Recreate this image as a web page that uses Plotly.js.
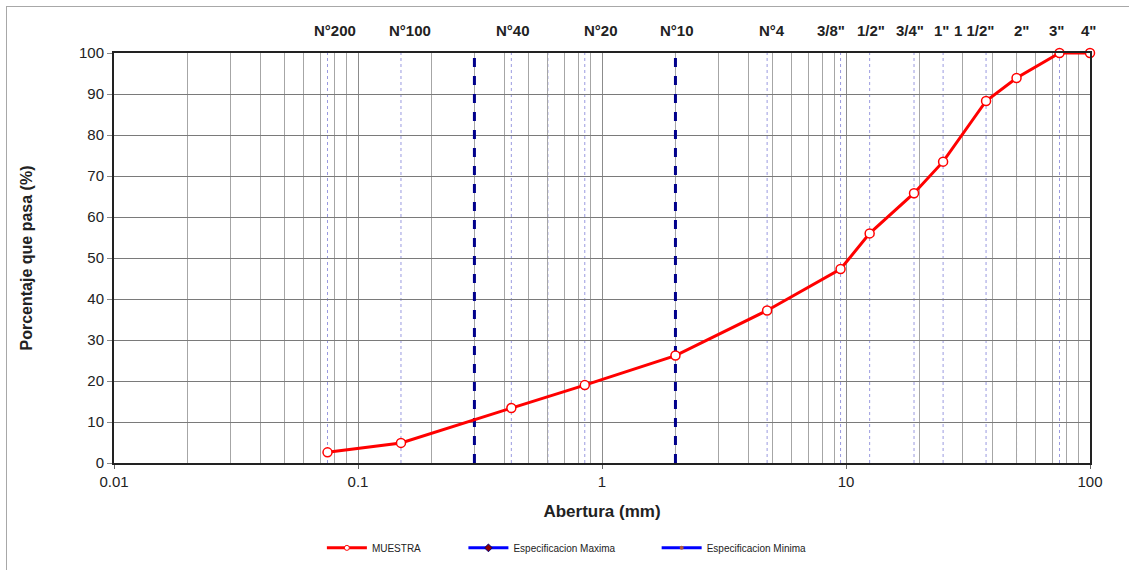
<!DOCTYPE html>
<html>
<head>
<meta charset="utf-8">
<script src="https://cdn.plot.ly/plotly-3.0.1.min.js"></script>
<style>
  html, body { margin: 0; padding: 0; background: #fff; }
  #wrap { position: relative; width: 1137px; height: 570px; }
  #chart { width: 1137px; height: 570px; }
  #frame { position: absolute; left: 6px; top: 6px; width: 1122px; height: 564px;
           border-left: 1px solid #a8a8a8; border-top: 1px solid #a8a8a8; pointer-events: none; }
</style>
</head>
<body>
<div id="wrap"><div id="chart"></div><div id="frame"></div></div>
<script>
// Sample gradation (abertura mm, % que pasa)
const muestraAbertura = [0.075, 0.15, 0.425, 0.85, 2.0, 4.75, 9.5, 12.5, 19.0, 25.0, 37.5, 50.0, 75.0, 100.0];
const muestraPasa     = [2.6, 4.9, 13.4, 19.0, 26.2, 37.2, 47.3, 56.0, 65.8, 73.5, 88.3, 93.9, 100.0, 100.0];

// Sieve designations and openings (top labels + dotted reference lines)
const tamices       = ["N°200", "N°100", "N°40", "N°20", "N°10", "N°4", "3/8\"", "1/2\"", "3/4\"", "1\"", "1 1/2\"", "2\"", "3\"", "4\""];
const tamizAbertura = [0.075, 0.15, 0.425, 0.85, 2.0, 4.75, 9.5, 12.5, 19.0, 25.0, 37.5, 50.0, 75.0, 100.0];
const tamicesExtra  = [0.6];

// Specification limit lines (mm)
const limitesEspec = [0.3, 2.0];

// Specification series (no values plotted in the reference)
const espMaxAbertura = [null];
const espMaxPasa = [null];
const espMinAbertura = [null];
const espMinPasa = [null];

const xTicks = [0.01, 0.1, 1, 10, 100];
const xTickText = ["0.01", "0.1", "1", "10", "100"];

// label pixel nudges (styling only)
const labelShift = [7, 9, 2, 16, 2, 5, -10, 1, -4, -2, -12, 5, -3, -2];

const FONT = "Liberation Sans, Arial, sans-serif";

const traces = [];
limitesEspec.forEach(v => {
  traces.push({
    x: [v, v], y: [0, 100], mode: "lines", showlegend: false, hoverinfo: "skip",
    line: { color: "#00008B", width: 3, dash: "dash" }
  });
});
traces.push({
  name: "MUESTRA", x: muestraAbertura, y: muestraPasa, mode: "lines+markers",
  line: { color: "#FF0000", width: 3 },
  marker: { symbol: "circle", size: 9, color: "#FFFFFF", line: { color: "#FF0000", width: 1.5 } },
  showlegend: false, cliponaxis: false
});
// legend entry for the sample with a small marker, as in the reference
traces.push({
  name: "MUESTRA", x: [null], y: [null], mode: "lines+markers",
  line: { color: "#FF0000", width: 3 },
  marker: { symbol: "circle", size: 5, color: "#FFFFFF", line: { color: "#FF0000", width: 1 } },
  legend: "legend", showlegend: true
});
traces.push({
  name: "Especificacion Maxima", x: espMaxAbertura, y: espMaxPasa, mode: "lines+markers",
  line: { color: "#0000FF", width: 3 },
  marker: { symbol: "diamond", size: 6, color: "#8B0000", line: { color: "#000080", width: 1 } },
  legend: "legend2", showlegend: true
});
traces.push({
  name: "Especificacion Minima", x: espMinAbertura, y: espMinPasa, mode: "lines+markers",
  line: { color: "#0000FF", width: 3 },
  marker: { symbol: "circle", size: 4, color: "#B05A3A" },
  legend: "legend3", showlegend: true
});

const shapes = tamizAbertura.concat(tamicesExtra).filter(v => v < 100).map(v => ({
  type: "line", xref: "x", yref: "paper", x0: v, x1: v, y0: 0, y1: 1, layer: "below",
  line: { color: "#9A9AE0", width: 1, dash: "dot" }
}));

const annotations = tamices.map((t, i) => ({
  text: "<b>" + t + "</b>", xref: "x", yref: "paper", x: Math.log10(tamizAbertura[i]), y: 1.054,
  xshift: labelShift[i],
  showarrow: false, xanchor: "center", yanchor: "middle",
  font: { family: FONT, size: 15, color: "#222" }
}));

const legendBase = {
  orientation: "h", yanchor: "middle", y: -0.207, xanchor: "left",
  font: { family: FONT, size: 10, color: "#222" }, bgcolor: "rgba(0,0,0,0)",
  itemwidth: 40
};

const layout = {
  width: 1137, height: 570,
  margin: { l: 114, r: 47, t: 53, b: 107, autoexpand: false },
  paper_bgcolor: "#FFFFFF", plot_bgcolor: "#FFFFFF",
  font: { family: FONT, size: 13, color: "#222" },
  xaxis: {
    type: "log", range: [-2, 2], tickmode: "array", tickvals: xTicks, ticktext: xTickText,
    ticks: "outside", ticklen: 4, tickcolor: "#666", automargin: false,
    showgrid: true, gridcolor: "#8C8C8C", gridwidth: 1,
    minor: { dtick: "D1", showgrid: true, gridcolor: "#A6A6A6", gridwidth: 1, ticks: "" },
    showline: true, linecolor: "#222", linewidth: 2, mirror: true,
    tickfont: { family: FONT, size: 15, color: "#222" },
    title: { text: "<b>Abertura (mm)</b>", font: { family: FONT, size: 17, color: "#222" }, standoff: 16 },
    zeroline: false
  },
  yaxis: {
    range: [0, 100], dtick: 10, tick0: 0,
    ticks: "outside", ticklen: 5, tickcolor: "#888", automargin: false,
    showgrid: true, gridcolor: "#7A7A7A", gridwidth: 1,
    showline: true, linecolor: "#222", linewidth: 2, mirror: true,
    tickfont: { family: FONT, size: 15, color: "#222" },
    title: { text: "<b>Porcentaje que pasa (%)</b>", font: { family: FONT, size: 16, color: "#222" }, standoff: 42 },
    zeroline: false
  },
  legend:  Object.assign({}, legendBase, { x: 0.213 }),
  legend2: Object.assign({}, legendBase, { x: 0.358 }),
  legend3: Object.assign({}, legendBase, { x: 0.556 }),
  shapes: shapes,
  annotations: annotations,
  hovermode: false
};

Plotly.newPlot("chart", traces, layout, { displayModeBar: false, staticPlot: true });
</script>
</body>
</html>
